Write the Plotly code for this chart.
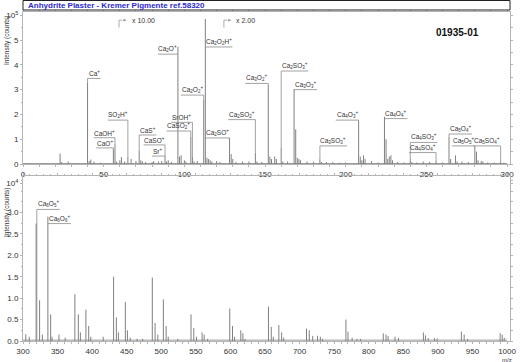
import re
import plotly.graph_objects as go

# ---------------- data ----------------
# Top panel: m/z 0-300, intensity (x1e5 counts, as displayed)
top_mz = [23, 24, 28, 40, 41, 42, 44, 48, 56, 57, 58, 60, 61, 63, 65, 67, 70, 72, 73, 74, 76,
          80, 81, 84, 86, 88, 89, 90, 92, 96, 97, 98, 100, 101, 104, 105, 106, 108, 112, 113,
          114, 115, 116, 117, 120, 122, 128, 129, 130, 132, 136, 140, 144, 145, 148, 152, 153,
          154, 156, 157, 160, 161, 164, 168, 169, 170, 171, 172, 176, 180, 184, 185, 188, 192,
          196, 200, 208, 209, 210, 211, 212, 216, 220, 224, 225, 226, 227, 228, 229, 232, 236,
          240, 241, 244, 248, 252, 256, 260, 264, 265, 268, 269, 272, 276, 280, 281, 282, 284,
          285, 288, 292, 296, 298]
top_int = [0.42, 0.08, 0.1, 3.27, 0.12, 0.18, 0.1, 0.05, 0.6, 0.8, 0.1, 0.15, 0.28, 0.1, 0.3, 0.2,
           0.12, 0.55, 0.15, 0.1, 0.08, 0.08, 0.12, 0.1, 0.12, 0.35, 0.1, 0.15, 0.08, 4.73, 0.3,
           0.35, 0.15, 0.1, 1.1, 0.3, 0.1, 0.12, 2.58, 5.85, 0.25, 0.2, 0.15, 0.1, 0.12, 0.08,
           1.05, 0.4, 0.2, 0.08, 0.1, 0.1, 0.45, 0.1, 0.08, 3.19, 0.3, 0.2, 0.3, 0.2, 0.65, 0.1,
           0.1, 3.02, 1.4, 0.25, 0.2, 0.15, 0.1, 0.08, 0.2, 0.08, 0.08, 0.07, 0.05, 0.06, 1.77,
           0.3, 0.15, 0.35, 0.2, 0.12, 0.06, 1.91, 1.0, 0.2, 0.3, 0.35, 0.15, 0.08, 0.06, 0.2,
           0.08, 0.06, 0.1, 0.08, 0.12, 0.06, 1.1, 0.2, 0.35, 0.1, 0.1, 0.08, 0.73, 0.5, 0.15,
           0.12, 0.1, 0.06, 0.06, 0.1, 0.05]

# Bottom panel: m/z 300-1000, intensity (x1e4 counts)
bot_mz = [304, 309, 319, 324, 328, 336, 340, 342, 352, 361, 375, 380, 383, 391, 395, 398, 416,
          431, 435, 438, 448, 451, 455, 465, 473, 487, 491, 495, 503, 507, 510, 524, 543, 547,
          551, 559, 562, 567, 599, 603, 606, 615, 618, 621, 655, 659, 662, 670, 674, 677, 710,
          714, 719, 726, 730, 733, 767, 770, 776, 783, 788, 821, 825, 828, 838, 843, 879, 882,
          886, 895, 899, 934, 938, 943, 990, 993, 996]
bot_int = [0.16, 0.1, 2.74, 0.95, 0.15, 2.9, 0.62, 0.1, 0.15, 0.08, 1.09, 0.62, 0.2, 0.73, 0.35,
           0.1, 0.1, 1.5, 0.55, 0.2, 0.91, 0.25, 0.08, 0.05, 0.05, 1.48, 0.42, 0.15, 0.97, 0.35,
           0.1, 0.05, 0.62, 0.3, 0.1, 0.2, 0.15, 0.05, 0.76, 0.35, 0.1, 0.25, 0.18, 0.05, 0.8,
           0.33, 0.1, 0.37, 0.2, 0.08, 0.29, 0.25, 0.12, 0.12, 0.1, 0.05, 0.5, 0.22, 0.08, 0.05,
           0.05, 0.18, 0.15, 0.12, 0.1, 0.07, 0.2, 0.13, 0.07, 0.07, 0.06, 0.22, 0.15, 0.05,
           0.18, 0.15, 0.07]

# peak labels
top_lab_text = ["Ca<sup>+</sup>", "CaOH<sup>+</sup>", "CaO<sup>+</sup>", "SO<sub>2</sub>H<sup>+</sup>",
                "CaS<sup>+</sup>", "CaSO<sup>+</sup>", "Sr<sup>+</sup>", "Ca<sub>2</sub>O<sup>+</sup>",
                "SrOH<sup>+</sup>", "CaSO<sub>2</sub><sup>+</sup>", "Ca<sub>2</sub>O<sub>2</sub><sup>+</sup>",
                "Ca<sub>2</sub>O<sub>2</sub>H<sup>+</sup>", "Ca<sub>2</sub>SO<sup>+</sup>",
                "Ca<sub>2</sub>SO<sub>2</sub><sup>+</sup>", "Ca<sub>3</sub>O<sub>2</sub><sup>+</sup>",
                "Ca<sub>2</sub>SO<sub>3</sub><sup>+</sup>", "Ca<sub>3</sub>O<sub>3</sub><sup>+</sup>",
                "Ca<sub>3</sub>SO<sub>3</sub><sup>+</sup>", "Ca<sub>4</sub>O<sub>3</sub><sup>+</sup>",
                "Ca<sub>4</sub>O<sub>4</sub><sup>+</sup>", "Ca<sub>4</sub>SO<sub>3</sub><sup>+</sup>",
                "Ca<sub>4</sub>SO<sub>4</sub><sup>+</sup>", "Ca<sub>5</sub>O<sub>4</sub><sup>+</sup>",
                "Ca<sub>5</sub>O<sub>5</sub><sup>+</sup>", "Ca<sub>5</sub>SO<sub>4</sub><sup>+</sup>"]
top_lab_mz = [40, 57, 56, 65, 72, 88, 88, 96, 105, 104, 112, 113, 128, 144, 152, 160, 168, 184,
              208, 224, 240, 256, 264, 280, 296]
top_lab_y = [3.45, 1.06, 0.65, 1.77, 1.17, 0.77, 0.32, 4.43, 1.68, 1.33, 2.78, 4.72, 1.05, 1.79,
             3.25, 3.75, 3.0, 0.73, 1.77, 1.83, 0.87, 0.46, 1.21, 0.73, 0.73]
top_lab_side = ["r", "l", "l", "l", "r", "l", "l", "l", "l", "l", "l", "r", "l", "l", "l", "r",
                "r", "r", "l", "r", "r", "l", "r", "l", "l"]

bot_lab_text = ["Ca<sub>6</sub>O<sub>5</sub><sup>+</sup>", "Ca<sub>6</sub>O<sub>6</sub><sup>+</sup>"]
bot_lab_mz = [320, 336]
bot_lab_y = [3.07, 2.74]
bot_lab_side = ["r", "r"]

# scale-change markers on the top panel
scale_mz = [59.5, 124.5]
scale_text = ["x 10.00", "x 2.00"]

top_ticks = [0, 1, 2, 3, 4, 5, 6]
top_ticktext = ["0", "1", "2", "3", "4", "5", "10<sup>5</sup>"]
bot_ticks = [0, 0.5, 1.0, 1.5, 2.0, 2.5, 3.0, 3.68]
bot_ticktext = ["0.0", "0.5", "1.0", "1.5", "2.0", "2.5", "3.0", "10<sup>4</sup>"]
top_xticks = [0, 50, 100, 150, 200, 250, 300]
bot_xticks = list(range(300, 1001, 50))

title_text = "Anhydrite Plaster - Kremer Pigmente ref.58320"
sample_id = "01935-01"

# ---------------- layout constants ----------------
W, H = 520, 362
ML, MR, MT, MB = 23, 4, 12, 21
PW = W - ML - MR
PH = H - MT - MB
top_dom = [(H - MB - 164) / PH, 1.0]
bot_dom = [0.0, (H - MB - 176) / PH]
top_xr = [0, 301.8]
bot_xr = [300, 1004.3]
top_yr = [0, 6.13]
bot_yr = [0, 3.85]

LINE = "#808080"
AX = "#b4b4b4"
TXT = "#333333"
FONT = "Liberation Sans, Arial, sans-serif"


def sticks(mz, inten):
    xs, ys = [], []
    for m, v in zip(mz, inten):
        xs += [m, m, None]
        ys += [0, v, None]
    return xs, ys


def text_px(t, fs):
    small = sum(len(s) for s in re.findall(r"<su[bp]>(.*?)</su[bp]>", t))
    plain = re.sub(r"<su[bp]>.*?</su[bp]>", "", t)
    return len(plain) * 0.64 * fs + small * 0.45 * fs + 2


fig = go.Figure()
tx, ty = sticks(top_mz, top_int)
fig.add_trace(go.Scatter(x=tx, y=ty, mode="lines", line=dict(color=LINE, width=1),
                         xaxis="x", yaxis="y", hoverinfo="skip", showlegend=False))
bx, by = sticks(bot_mz, bot_int)
fig.add_trace(go.Scatter(x=bx, y=by, mode="lines", line=dict(color=LINE, width=1),
                         xaxis="x2", yaxis="y2", hoverinfo="skip", showlegend=False))
# baselines
fig.add_trace(go.Scatter(x=[top_xr[0], 300], y=[0.02, 0.02], mode="lines",
                         line=dict(color=LINE, width=0.8), xaxis="x", yaxis="y",
                         hoverinfo="skip", showlegend=False))
fig.add_trace(go.Scatter(x=[300, 1000], y=[0.02, 0.02], mode="lines",
                         line=dict(color=LINE, width=0.8), xaxis="x2", yaxis="y2",
                         hoverinfo="skip", showlegend=False))

shapes, annots = [], []
LFS = 6.5


def add_labels(texts, mzs, ys, sides, peaks_mz, peaks_int, xref, yref, xr):
    ppu = PW / (xr[1] - xr[0])
    pk = dict(zip(peaks_mz, peaks_int))
    for t, m, y, s in zip(texts, mzs, ys, sides):
        w = text_px(t, LFS) / ppu
        sgn = 1 if s == "r" else -1
        p = pk.get(m, 0)
        path = f"M {m},{min(p, y)} L {m},{y} L {m + sgn * w},{y}"
        shapes.append(dict(type="path", path=path, xref=xref, yref=yref,
                           line=dict(color="#8a8a8a", width=0.8)))
        annots.append(dict(x=m + sgn * w / 2, y=y, xref=xref, yref=yref, text=t,
                           showarrow=False, xanchor="center", yanchor="bottom", yshift=-1,
                           font=dict(size=LFS, color=TXT, family=FONT)))


add_labels(top_lab_text, top_lab_mz, top_lab_y, top_lab_side, top_mz, top_int, "x", "y", top_xr)
add_labels(bot_lab_text, bot_lab_mz, bot_lab_y, bot_lab_side, bot_mz, bot_int, "x2", "y2", bot_xr)

for m, t in zip(scale_mz, scale_text):
    shapes.append(dict(type="path", path=f"M {m},5.5 L {m},5.8 L {m + 2},5.8", xref="x", yref="y",
                       line=dict(color="#999999", width=0.8)))
    annots.append(dict(x=m + 4.5, y=5.8, ax=m + 1.5, ay=5.8, axref="x", ayref="y", xref="x", yref="y",
                       text="", showarrow=True, arrowhead=2, arrowsize=0.7, arrowwidth=0.8,
                       arrowcolor="#999999"))
    annots.append(dict(x=m + 6.5, y=5.8, xref="x", yref="y", text=t, showarrow=False,
                       xanchor="left", yanchor="middle", font=dict(size=7, color=TXT, family=FONT)))

# title box
shapes.append(dict(type="rect", xref="paper", yref="paper", x0=0, x1=1,
                   y0=(H - MB - 10) / PH, y1=(H - MB - 0.5) / PH,
                   line=dict(color="#222222", width=1), fillcolor="white"))
annots.append(dict(x=0, y=(H - MB - 5.2) / PH, xref="paper", yref="paper", text=f"<b>{title_text}</b>",
                   showarrow=False, xanchor="left", yanchor="middle", xshift=3,
                   font=dict(size=8, color="#2a2ad0", family=FONT)))
annots.append(dict(x=(463 - ML) / PW, y=(H - MB - 32) / PH, xref="paper", yref="paper",
                   text=f"<b>{sample_id}</b>", showarrow=False, xanchor="center", yanchor="middle",
                   font=dict(size=10, color="#111111", family=FONT)))
# axis titles
for dom, shift in ((top_dom, -1), (bot_dom, -9)):
    annots.append(dict(x=0, y=dom[1], xref="paper", yref="paper", text="Intensity (counts)",
                       textangle=-90, showarrow=False, xanchor="center", yanchor="top",
                       xshift=-16, yshift=shift, font=dict(size=6.5, color=TXT, family=FONT)))
annots.append(dict(x=1000, y=0, xref="x2", yref="paper", text="m/z", showarrow=False,
                   xanchor="center", yanchor="top", yshift=-13.5,
                   font=dict(size=6, color=TXT, family=FONT)))

axis_common = dict(showline=True, linecolor=AX, linewidth=1, mirror="allticks",
                   ticks="outside", ticklen=2, tickcolor=AX, showgrid=False, zeroline=False,
                   tickfont=dict(size=8, color=TXT, family=FONT))

fig.update_layout(
    width=W, height=H, margin=dict(l=ML, r=MR, t=MT, b=MB),
    paper_bgcolor="white", plot_bgcolor="white", showlegend=False,
    xaxis=dict(domain=[0, 1], range=top_xr, anchor="y", tickvals=top_xticks,
               minor=dict(dtick=10, ticks="outside", ticklen=1.5, tickcolor=AX), **axis_common),
    yaxis=dict(domain=top_dom, range=top_yr, anchor="x", tickvals=top_ticks, ticktext=top_ticktext,
               minor=dict(dtick=0.5, ticks="outside", ticklen=1.5, tickcolor=AX), **axis_common),
    xaxis2=dict(domain=[0, 1], range=bot_xr, anchor="y2", tickvals=bot_xticks,
                minor=dict(dtick=10, ticks="outside", ticklen=1.5, tickcolor=AX), **axis_common),
    yaxis2=dict(domain=bot_dom, range=bot_yr, anchor="x2", tickvals=bot_ticks, ticktext=bot_ticktext,
                minor=dict(dtick=0.25, ticks="outside", ticklen=1.5, tickcolor=AX), **axis_common),
    shapes=shapes, annotations=annots,
)

fig.write_html("out.html", config={"displayModeBar": False},
               post_script="document.body.style.margin='0';document.body.style.padding='0';")
